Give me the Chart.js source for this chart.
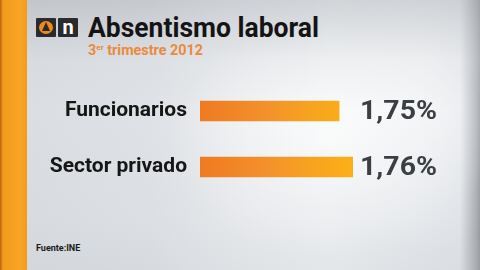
<!DOCTYPE html>
<html><head><meta charset="utf-8">
<script src="https://cdn.jsdelivr.net/npm/chart.js@4.4.1/dist/chart.umd.min.js"></script>
<style>
html,body{margin:0;padding:0;}
body{width:480px;height:270px;overflow:hidden;position:relative;font-family:Roboto,"DejaVu Sans",sans-serif;
background:
 radial-gradient(ellipse 160px 120px at 330px 140px, rgba(255,255,255,0.75), rgba(255,255,255,0) 100%),
 radial-gradient(ellipse 120px 200px at 420px 60px, rgba(255,255,255,0.5), rgba(255,255,255,0) 100%),
 linear-gradient(90deg, #d9dce0 0px, #dfe2e6 150px, #e9ebee 230px, #f0f2f4 330px, #e3e6ea 460px, #9fa3a8 477px, #8d9196 480px);
}
#shade{position:absolute;left:0;top:0;width:480px;height:270px;
background:linear-gradient(180deg, rgba(150,155,162,0.35) 0px, rgba(200,204,208,0.15) 60px, rgba(255,255,255,0) 110px, rgba(200,204,210,0.15) 220px, rgba(190,195,200,0.25) 270px);}
#strip{position:absolute;left:0;top:0;width:27px;height:270px;background:linear-gradient(90deg,#b8640c 0px,#f39a1c 3px,#f7a526 20px,#f49a1c 27px);}
#logo1,#logo2{position:absolute;top:18px;width:20px;height:19px;background:#2a2b2e;border-radius:1px;}
#logo1{left:36px;}
#logo2{left:58px;}
#logo1 .c{position:absolute;left:3px;top:3px;width:14px;height:13px;border-radius:50%;background:#f08a1e;}
#logo1 .t{position:absolute;left:6px;top:4px;width:0;height:0;border-left:4px solid transparent;border-right:4px solid transparent;border-bottom:9px solid #2a2b2e;}
#logo2 span{position:absolute;left:0;top:-3px;width:20px;text-align:center;color:#fff;font:bold 20px Roboto,sans-serif;}
#title{position:absolute;left:88px;top:12px;font-weight:bold;font-size:27px;line-height:32px;color:#141414;white-space:nowrap;}
#sub{position:absolute;left:88px;top:42px;font-weight:bold;font-size:14px;line-height:16px;color:#ea8a3c;white-space:nowrap;}
#sub sup{font-size:8px;vertical-align:5px;line-height:0;}
#src{position:absolute;left:36px;top:243px;font-weight:bold;font-size:9px;color:#1a1a1a;}
#c{position:absolute;left:0;top:0;}
</style></head>
<body>
<div id="shade"></div>
<div id="strip"></div>
<div id="logo1"><div class="c"></div><div class="t"></div></div>
<div id="logo2"><span>n</span></div>
<div id="title">Absentismo laboral</div>
<div id="sub">3<sup>er</sup> trimestre 2012</div>
<div id="src">Fuente:INE</div>
<canvas id="c" width="480" height="270"></canvas>
<script>
const categories = ["Funcionarios", "Sector privado"];
const values = [1.75, 1.76];
const valueLabels = ["1,75%", "1,76%"];

function fitWidth(id, w) {
  const el = document.getElementById(id);
  const r = el.getBoundingClientRect().width;
  el.style.transformOrigin = '0 0';
  el.style.transform = 'scaleX(' + (w / r) + ')';
}
fitWidth('title', 231);
fitWidth('sub', 115);

const valuePlugin = {
  id: 'valueLabels',
  afterDatasetsDraw(chart) {
    const ctx = chart.ctx;
    const meta = chart.getDatasetMeta(0);
    ctx.save();
    ctx.font = 'bold 26px Roboto, sans-serif';
    ctx.fillStyle = '#3b3e43';
    ctx.textAlign = 'left';
    ctx.textBaseline = 'alphabetic';
    meta.data.forEach((bar, i) => {
      const w = ctx.measureText(valueLabels[i]).width;
      ctx.save();
      ctx.translate(360, bar.y + 8);
      ctx.scale(77 / w, 1);
      ctx.fillText(valueLabels[i], 0, 0);
      ctx.restore();
    });
    ctx.restore();
  }
};

const ctx = document.getElementById('c').getContext('2d');
new Chart(ctx, {
  type: 'bar',
  data: {
    labels: categories,
    datasets: [{
      data: values,
      barThickness: 20,
      borderWidth: 0,
      borderSkipped: false,
      backgroundColor: (c) => {
        const ch = c.chart;
        const area = ch.chartArea;
        if (!area) return '#f39a1e';
        const g = ch.ctx.createLinearGradient(area.left, 0, area.right, 0);
        g.addColorStop(0, '#ef7a22');
        g.addColorStop(0.45, '#f3922c');
        g.addColorStop(0.75, '#f7a51e');
        g.addColorStop(1, '#fbb018');
        return g;
      }
    }]
  },
  options: {
    indexAxis: 'y',
    responsive: false,
    animation: false,
    layout: { padding: { left: 0, right: 127, top: 83, bottom: 75 } },
    plugins: { legend: { display: false }, tooltip: { enabled: false } },
    scales: {
      x: { display: false, min: 1.65, max: 1.76 },
      y: {
        grid: { display: false, drawTicks: false },
        border: { display: false },
        afterFit: (s) => { s.width = 200; },
        ticks: {
          color: '#161616',
          padding: 13,
          font: { family: 'Roboto', weight: 'bold', size: 21 }
        }
      }
    }
  },
  plugins: [valuePlugin]
});
</script>
</body></html>
